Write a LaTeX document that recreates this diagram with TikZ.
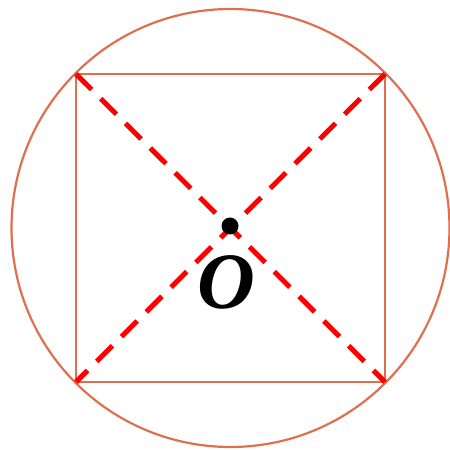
\documentclass[tikz,border=0pt]{standalone}
\usepackage{fontspec}
\setmainfont{Liberation Serif}
\definecolor{shapeor}{RGB}{222,112,80}
\begin{document}
\begin{tikzpicture}[x=1pt,y=1pt,
  outline/.style={draw=shapeor,line width=2.2pt},
  diag/.style={draw=red,line width=5pt,dash pattern=on 22pt off 13pt}]
\useasboundingbox (0,0) rectangle (450,450);
\coordinate (C) at (230.5,222);
\draw[outline] (C) circle (219);
\coordinate (A) at (76,376);
\coordinate (B) at (385,376);
\coordinate (D) at (385,68);
\coordinate (E) at (76,68);
\draw[outline] (A) -- (B) -- (D) -- (E) -- cycle;
\draw[diag] (A) -- (D);
\draw[diag] (B) -- (E);
\fill (230,224) circle (8.5);
\node (O) at (226,168) {\fontsize{80}{80}\selectfont\bfseries\itshape O};
\end{tikzpicture}
\end{document}
